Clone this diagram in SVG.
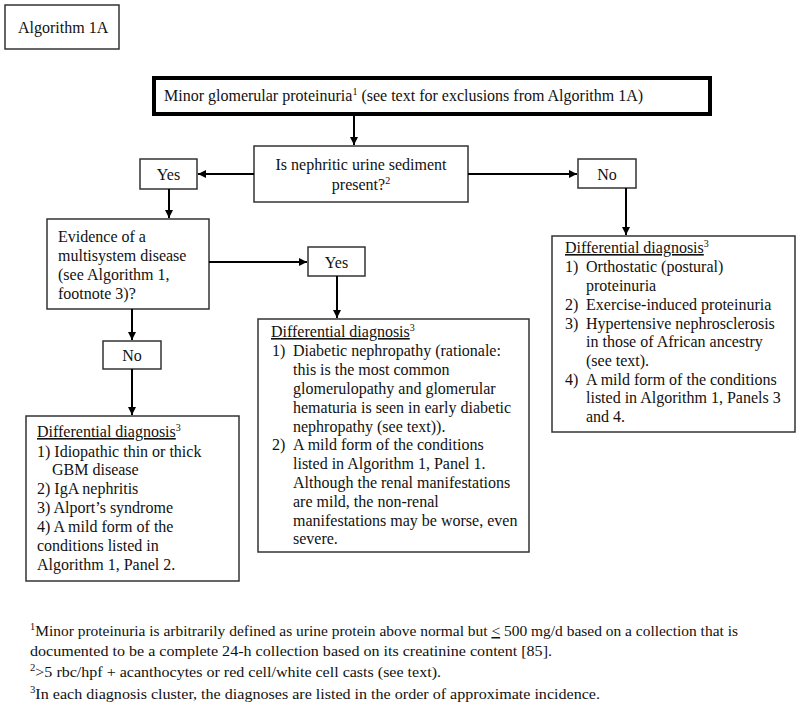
<svg xmlns="http://www.w3.org/2000/svg" width="800" height="708" viewBox="0 0 800 708">
<defs>
<marker id="ah" viewBox="0 0 10 10" refX="10" refY="5" markerWidth="8" markerHeight="8" markerUnits="userSpaceOnUse" orient="auto"><path d="M0,0 L10,5 L0,10 z" fill="#000"/></marker>
<style>
text{font-family:"Liberation Serif","Times New Roman",serif;font-size:16px;fill:#111}
.box{fill:#fff;stroke:#333;stroke-width:1.5}
.thick{fill:#fff;stroke:#000;stroke-width:4}
.c{text-anchor:middle}
.con{stroke:#000;stroke-width:2;fill:none;marker-end:url(#ah)}
.fn{font-size:15px}
</style>
</defs>
<rect width="800" height="708" fill="#fff"/>

<g id="label">
<rect class="box" x="5" y="5" width="114" height="44"/>
<text x="18" y="33">Algorithm 1A</text>
</g>

<g id="title">
<rect class="thick" x="154" y="78" width="556" height="36"/>
<text x="164" y="101">Minor glomerular proteinuria<tspan font-size="10" dy="-6">1</tspan><tspan dy="6"> (see text for exclusions from Algorithm 1A)</tspan></text>
</g>

<g id="question">
<rect class="box" x="254" y="146" width="214" height="56"/>
<text class="c" x="361" y="170">Is nephritic urine sediment</text>
<text class="c" x="361" y="190">present?<tspan font-size="10" dy="-6">2</tspan></text>
</g>

<g id="yes1">
<rect class="box" x="140" y="159" width="57" height="30"/>
<text class="c" x="168.5" y="180">Yes</text>
</g>

<g id="no1">
<rect class="box" x="578" y="159" width="58" height="29"/>
<text class="c" x="607" y="180">No</text>
</g>

<g id="evidence">
<rect class="box" x="47" y="219" width="162" height="90"/>
<text x="58" y="242">Evidence of a</text>
<text x="58" y="261">multisystem disease</text>
<text x="58" y="280">(see Algorithm 1,</text>
<text x="58" y="299">footnote 3)?</text>
</g>

<g id="yes2">
<rect class="box" x="308" y="247" width="57" height="29"/>
<text class="c" x="336.5" y="268">Yes</text>
</g>

<g id="no2">
<rect class="box" x="103" y="341" width="58" height="28"/>
<text class="c" x="132" y="361">No</text>
</g>

<g id="dd-right">
<rect class="box" x="552" y="236" width="243" height="196"/>
<text x="565" y="253"><tspan text-decoration="underline">Differential diagnosis</tspan><tspan font-size="10" dy="-6">3</tspan></text>
<text x="565" y="272">1)</text><text x="586" y="272">Orthostatic (postural)</text>
<text x="586" y="291">proteinuria</text>
<text x="565" y="310">2)</text><text x="586" y="310">Exercise-induced proteinuria</text>
<text x="565" y="329">3)</text><text x="586" y="329">Hypertensive nephrosclerosis</text>
<text x="586" y="347">in those of African ancestry</text>
<text x="586" y="366">(see text).</text>
<text x="565" y="385">4)</text><text x="586" y="385">A mild form of the conditions</text>
<text x="586" y="403">listed in Algorithm 1, Panels 3</text>
<text x="586" y="422">and 4.</text>
</g>

<g id="dd-middle">
<rect class="box" x="258" y="319" width="271" height="233"/>
<text x="271" y="337"><tspan text-decoration="underline">Differential diagnosis</tspan><tspan font-size="10" dy="-6">3</tspan></text>
<text x="272" y="356">1)</text><text x="293" y="356">Diabetic nephropathy (rationale:</text>
<text x="293" y="375">this is the most common</text>
<text x="293" y="394">glomerulopathy and glomerular</text>
<text x="293" y="413">hematuria is seen in early diabetic</text>
<text x="293" y="432">nephropathy (see text)).</text>
<text x="272" y="450">2)</text><text x="293" y="450">A mild form of the conditions</text>
<text x="293" y="469">listed in Algorithm 1, Panel 1.</text>
<text x="293" y="488">Although the renal manifestations</text>
<text x="293" y="507">are mild, the non-renal</text>
<text x="293" y="526">manifestations may be worse, even</text>
<text x="293" y="544">severe.</text>
</g>

<g id="dd-left">
<rect class="box" x="26" y="416" width="213" height="165"/>
<text x="37" y="437"><tspan text-decoration="underline">Differential diagnosis</tspan><tspan font-size="10" dy="-6">3</tspan></text>
<text x="37" y="457">1) Idiopathic thin or thick</text>
<text x="52" y="475">GBM disease</text>
<text x="37" y="494">2) IgA nephritis</text>
<text x="37" y="513">3) Alport’s syndrome</text>
<text x="37" y="532">4) A mild form of the</text>
<text x="37" y="551">conditions listed in</text>
<text x="37" y="570">Algorithm 1, Panel 2.</text>
</g>

<g id="connectors">
<line class="con" x1="354" y1="116" x2="354" y2="145"/>
<line class="con" x1="254" y1="174" x2="198" y2="174"/>
<line class="con" x1="468" y1="174" x2="577" y2="174"/>
<line class="con" x1="169" y1="189" x2="169" y2="218"/>
<line class="con" x1="626" y1="188" x2="626" y2="235"/>
<line class="con" x1="209" y1="262" x2="307" y2="262"/>
<line class="con" x1="337" y1="276" x2="337" y2="318"/>
<line class="con" x1="132" y1="309" x2="132" y2="340"/>
<line class="con" x1="132" y1="369" x2="132" y2="415"/>
</g>

<g id="footnotes">
<text class="fn" x="30" y="636" textLength="708" lengthAdjust="spacingAndGlyphs"><tspan font-size="10" dy="-6">1</tspan><tspan dy="6">Minor proteinuria is arbitrarily defined as urine protein above normal but </tspan><tspan text-decoration="underline">&lt;</tspan> 500 mg/d based on a collection that is</text>
<text class="fn" x="30" y="656" textLength="522" lengthAdjust="spacingAndGlyphs">documented to be a complete 24-h collection based on its creatinine content [85].</text>
<text class="fn" x="30" y="677" textLength="411" lengthAdjust="spacingAndGlyphs"><tspan font-size="10" dy="-6">2</tspan><tspan dy="6">&gt;5 rbc/hpf + acanthocytes or red cell/white cell casts (see text).</tspan></text>
<text class="fn" x="30" y="699" textLength="570" lengthAdjust="spacingAndGlyphs"><tspan font-size="10" dy="-6">3</tspan><tspan dy="6">In each diagnosis cluster, the diagnoses are listed in the order of approximate incidence.</tspan></text>
</g>
</svg>
